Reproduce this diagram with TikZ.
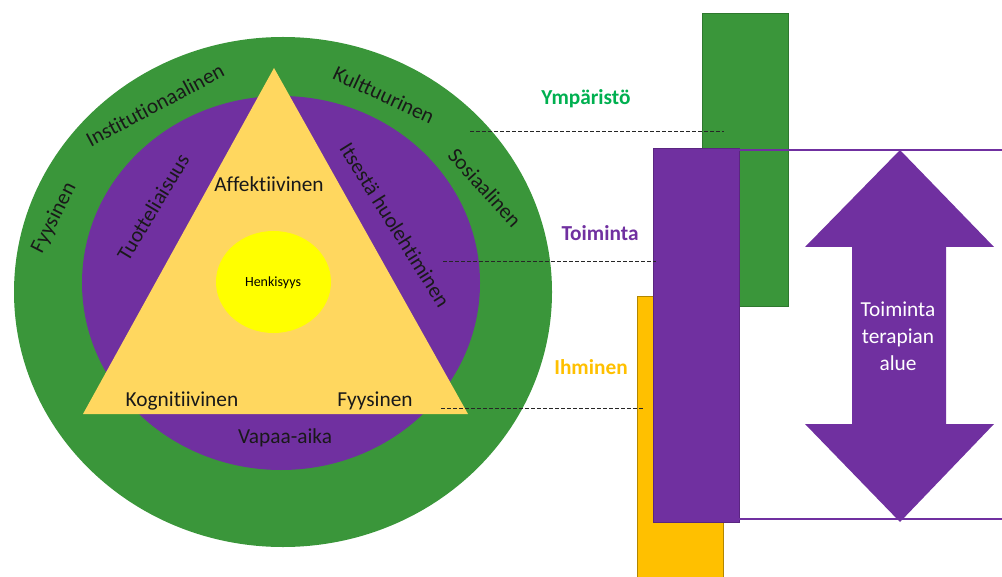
\documentclass[tikz,border=0pt]{standalone}
\usepackage{fontspec}
\setmainfont{Carlito}[Ligatures=NoCommon]
\definecolor{ringgreen}{RGB}{58,150,58}
\definecolor{ringpurple}{RGB}{112,48,160}
\definecolor{triyellow}{RGB}{255,215,95}
\definecolor{spirityellow}{RGB}{255,255,0}
\definecolor{humanorange}{RGB}{255,192,0}
\definecolor{envtext}{RGB}{0,176,80}

\begin{document}
\begin{tikzpicture}[x=0.75pt,y=-0.75pt,
    every node/.style={inner sep=0pt,font=\fontsize{16}{19}\selectfont}]
  \tikzstyle{ringlabel}=[text=black!90]
  \tikzstyle{sidelabel}=[font=\fontsize{16}{19}\selectfont\bfseries]
  \tikzstyle{guide}=[dash pattern=on 3pt off 1.5pt,line width=0.75pt,black!85]
  \tikzstyle{bar}=[line width=0.5pt]
  \useasboundingbox (0,0) rectangle (1002,577);

  % rings and triangle
  \fill[ringgreen] (283,292) ellipse [x radius=269,y radius=255];
  \fill[ringpurple] (281,283) ellipse [x radius=199,y radius=187];
  \coordinate (apex) at (274,68);
  \coordinate (baseL) at (83,414);
  \coordinate (baseR) at (468,414);
  \fill[triyellow] (apex) -- (baseR) -- (baseL) -- cycle;
  \fill[spirityellow] (273.5,282) ellipse [x radius=57.5,y radius=51];

  \node[font=\fontsize{10.5}{12}\selectfont] (spirit) at (273,283) {Henkisyys};
  \node[ringlabel] (affect) at (269,184) {Affektiivinen};
  \node[ringlabel] (cogn)   at (182,401) {Kognitiivinen};
  \node[ringlabel] (phys)   at (375,401) {Fyysinen};
  \node[ringlabel] (leisure) at (285,438) {Vapaa-aika};
  \node[ringlabel,rotate=59] (product) at (153,207) {Tuotteliaisuus};
  \node[ringlabel,rotate=-58] (selfcare) at (395,225) {Itsestä huolehtiminen};
  \node[ringlabel,rotate=63] (physenv) at (54,218) {Fyysinen};
  \node[ringlabel,rotate=28] (instit) at (155,105) {Institutionaalinen};
  \node[ringlabel,rotate=-25] (cult) at (384,95) {Kulttuurinen};
  \node[ringlabel,rotate=-48] (social) at (485,188) {Sosiaalinen};

  % bars
  \filldraw[bar,fill=humanorange,draw=humanorange!70!black] (637,296) rectangle (723,580);
  \filldraw[bar,fill=ringgreen,draw=ringgreen!80!black] (702,13) rectangle (788,306);
  \filldraw[bar,fill=ringpurple,draw=ringpurple!80!black] (653,148) rectangle (739,522);
  \draw[ringpurple,line width=1.2pt] (739,150) -- (1002,150);
  \draw[ringpurple,line width=1.2pt] (739,519) -- (1002,519);

  % double arrow
  \fill[ringpurple] (900,150) -- (994,247) -- (946,247) -- (946,424) -- (994,424)
    -- (900,522) -- (805,424) -- (852,424) -- (852,247) -- (805,247) -- cycle;
  \node[text=white,align=center,font=\fontsize{16}{20.25}\selectfont] (area) at (898,336)
    {Toiminta\\terapian\\alue};

  % side labels
  \node[sidelabel,text=envtext] (env) at (586,99) {Ympäristö};
  \node[sidelabel,text=ringpurple] (occup) at (600,233) {Toiminta};
  \node[sidelabel,text=humanorange] (human) at (591,367) {Ihminen};

  \coordinate (envA) at (470,132);
  \coordinate (envB) at (724,132);
  \coordinate (occA) at (443,261);
  \coordinate (occB) at (656,261);
  \coordinate (humA) at (441,408);
  \coordinate (humB) at (643,408);
  \draw[guide] (envA) -- (envB);
  \draw[guide] (occA) -- (occB);
  \draw[guide] (humA) -- (humB);
\end{tikzpicture}
\end{document}
